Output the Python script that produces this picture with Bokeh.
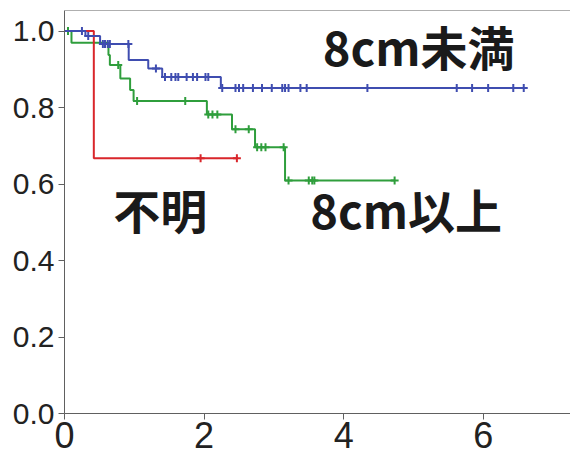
import numpy as np
from bokeh.plotting import figure
from bokeh.models import Range1d, FixedTicker, PrintfTickFormatter, Span, ColumnDataSource
from bokeh.core.properties import value
from bokeh.embed import file_html
from bokeh.resources import INLINE

# ---------------- data ----------------
group_names = ["8cm未満", "8cm以上", "不明"]

# 8cm未満 (blue)
blue_times = [0.0, 0.30, 0.51, 0.92, 1.20, 1.40, 2.24]
blue_surv = [1.0, 0.987, 0.966, 0.924, 0.902, 0.880, 0.851]
blue_censor = [0.25, 0.34, 0.55, 0.58, 0.62, 0.65, 0.915, 1.31, 1.44, 1.53, 1.59, 1.63,
               1.75, 1.84, 1.90, 2.02, 2.06, 2.26, 2.45, 2.50, 2.56, 2.70, 2.83,
               2.97, 3.12, 3.16, 3.21, 3.38, 3.47, 4.34, 5.62, 5.84, 6.07, 6.43, 6.58]

# 8cm以上 (green)
green_times = [0.0, 0.10, 0.63, 0.65, 0.80, 0.94, 0.99, 2.04, 2.40, 2.73, 3.16]
green_surv = [1.0, 0.969, 0.937, 0.911, 0.876, 0.846, 0.817, 0.782, 0.743, 0.696, 0.609]
green_censor = [0.05, 0.77, 1.04, 1.73, 2.06, 2.12, 2.19, 2.45, 2.64, 2.76, 2.82,
                2.88, 3.14, 3.21, 3.50, 3.55, 3.58, 4.73]

# 不明 (red)
red_times = [0.0, 0.42]
red_surv = [1.0, 0.667]
red_censor = [1.95, 2.47]

y_ticks = [0.0, 0.2, 0.4, 0.6, 0.8, 1.0]
x_ticks = [0, 2, 4, 6]

# ---------------- figure ----------------
X_END = 7.25
Y_END = 1.0536

p = figure(width=570, height=456, output_backend="svg", toolbar_location=None,
           x_range=Range1d(0, X_END), y_range=Range1d(0, Y_END),
           min_border_left=64, min_border_right=0, min_border_top=10, min_border_bottom=43)
p.outline_line_color = None
p.xgrid.visible = False
p.ygrid.visible = False
p.background_fill_color = "white"
p.border_fill_color = "white"

for ax in (p.xaxis[0], p.yaxis[0]):
    ax.axis_line_color = "#606060"
    ax.axis_line_width = 1
    ax.major_tick_line_color = "#606060"
    ax.major_tick_out = 6
    ax.major_tick_in = 0
    ax.minor_tick_line_color = None
    ax.major_label_text_color = "#222222"
    ax.major_label_text_font = "Liberation Sans"

p.yaxis.ticker = FixedTicker(ticks=y_ticks)
p.yaxis.formatter = PrintfTickFormatter(format="%.1f")
p.yaxis.major_label_text_font_size = "30px"
p.yaxis.major_label_standoff = 4

p.xaxis.ticker = FixedTicker(ticks=x_ticks)
p.xaxis.formatter = PrintfTickFormatter(format="%d")
p.xaxis.major_label_text_font_size = "36px"
p.xaxis.major_label_standoff = 2

p.add_layout(Span(location=Y_END, dimension="width", line_color="#606060", line_width=1))


def km(times, surv, censor, color):
    t = np.asarray(times, dtype=float)
    s = np.asarray(surv, dtype=float)
    c = np.asarray(censor, dtype=float)
    end = max(t.max(), c.max())
    xs = np.append(t, end)
    ys = np.append(s, s[-1])
    p.step(xs, ys, mode="after", line_color=color, line_width=2)
    idx = np.searchsorted(t, c, side="right") - 1
    p.scatter(c, s[idx], marker="cross", size=8, line_color=color, line_width=2)


km(green_times, green_surv, green_censor, "#2f9e3c")
km(red_times, red_surv, red_censor, "#d9262b")
km(blue_times, blue_surv, blue_censor, "#3f4db0")

# labels
label_x = [3.70, 3.52, 0.70]
label_y = [0.962, 0.537, 0.537]
src = ColumnDataSource(dict(x=label_x, y=label_y, text=group_names))
p.text(x="x", y="y", text="text", source=src, text_font=value("Noto Sans CJK JP"),
       text_font_style="bold", text_font_size="47px", text_color="#1a1a1a",
       text_align="left", text_baseline="alphabetic")

open("out.html", "w").write(file_html(p, INLINE))
